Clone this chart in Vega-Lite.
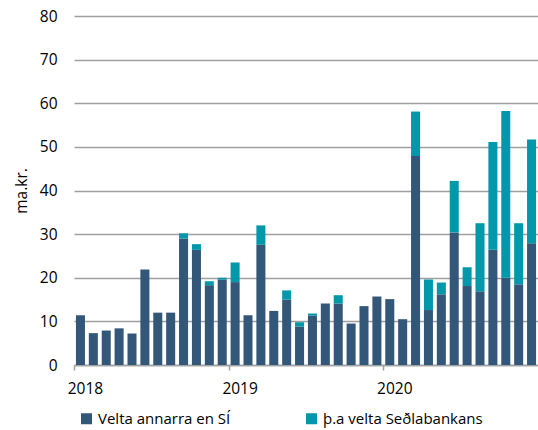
{
  "$schema": "https://vega.github.io/schema/vega-lite/v6.json",
  "autosize": {"type": "none"},
  "width": 464,
  "height": 349,
  "padding": {"left": 74, "top": 16, "right": 0, "bottom": 65},
  "background": "white",
  "config": {
    "view": {"stroke": null},
    "font": "Open Sans",
    "axis": {"labelFont": "Open Sans", "titleFont": "Open Sans", "labelColor": "#000000", "titleColor": "#000000"},
    "legend": {"labelFont": "Open Sans"}
  },
  "data": {
    "values": [
      {"month": "2018-01", "series": "Velta annarra en SÍ", "value": 11.4},
      {"month": "2018-02", "series": "Velta annarra en SÍ", "value": 7.3},
      {"month": "2018-03", "series": "Velta annarra en SÍ", "value": 7.9},
      {"month": "2018-04", "series": "Velta annarra en SÍ", "value": 8.4},
      {"month": "2018-05", "series": "Velta annarra en SÍ", "value": 7.2},
      {"month": "2018-06", "series": "Velta annarra en SÍ", "value": 21.9},
      {"month": "2018-07", "series": "Velta annarra en SÍ", "value": 12.0},
      {"month": "2018-08", "series": "Velta annarra en SÍ", "value": 12.0},
      {"month": "2018-09", "series": "Velta annarra en SÍ", "value": 29.0},
      {"month": "2018-09", "series": "þ.a velta Seðlabankans", "value": 1.2},
      {"month": "2018-10", "series": "Velta annarra en SÍ", "value": 26.4},
      {"month": "2018-10", "series": "þ.a velta Seðlabankans", "value": 1.3},
      {"month": "2018-11", "series": "Velta annarra en SÍ", "value": 18.3},
      {"month": "2018-11", "series": "þ.a velta Seðlabankans", "value": 0.9},
      {"month": "2018-12", "series": "Velta annarra en SÍ", "value": 19.6},
      {"month": "2018-12", "series": "þ.a velta Seðlabankans", "value": 0.4},
      {"month": "2019-01", "series": "Velta annarra en SÍ", "value": 19.0},
      {"month": "2019-01", "series": "þ.a velta Seðlabankans", "value": 4.5},
      {"month": "2019-02", "series": "Velta annarra en SÍ", "value": 11.4},
      {"month": "2019-03", "series": "Velta annarra en SÍ", "value": 27.6},
      {"month": "2019-03", "series": "þ.a velta Seðlabankans", "value": 4.4},
      {"month": "2019-04", "series": "Velta annarra en SÍ", "value": 12.4},
      {"month": "2019-05", "series": "Velta annarra en SÍ", "value": 15.0},
      {"month": "2019-05", "series": "þ.a velta Seðlabankans", "value": 2.1},
      {"month": "2019-06", "series": "Velta annarra en SÍ", "value": 8.8},
      {"month": "2019-06", "series": "þ.a velta Seðlabankans", "value": 1.0},
      {"month": "2019-07", "series": "Velta annarra en SÍ", "value": 11.3},
      {"month": "2019-07", "series": "þ.a velta Seðlabankans", "value": 0.5},
      {"month": "2019-08", "series": "Velta annarra en SÍ", "value": 14.1},
      {"month": "2019-09", "series": "Velta annarra en SÍ", "value": 14.1},
      {"month": "2019-09", "series": "þ.a velta Seðlabankans", "value": 1.9},
      {"month": "2019-10", "series": "Velta annarra en SÍ", "value": 9.5},
      {"month": "2019-11", "series": "Velta annarra en SÍ", "value": 13.5},
      {"month": "2019-12", "series": "Velta annarra en SÍ", "value": 15.7},
      {"month": "2020-01", "series": "Velta annarra en SÍ", "value": 15.1},
      {"month": "2020-02", "series": "Velta annarra en SÍ", "value": 10.5},
      {"month": "2020-03", "series": "Velta annarra en SÍ", "value": 47.9},
      {"month": "2020-03", "series": "þ.a velta Seðlabankans", "value": 10.2},
      {"month": "2020-04", "series": "Velta annarra en SÍ", "value": 12.6},
      {"month": "2020-04", "series": "þ.a velta Seðlabankans", "value": 7.0},
      {"month": "2020-05", "series": "Velta annarra en SÍ", "value": 16.2},
      {"month": "2020-05", "series": "þ.a velta Seðlabankans", "value": 2.7},
      {"month": "2020-06", "series": "Velta annarra en SÍ", "value": 30.4},
      {"month": "2020-06", "series": "þ.a velta Seðlabankans", "value": 11.8},
      {"month": "2020-07", "series": "Velta annarra en SÍ", "value": 18.1},
      {"month": "2020-07", "series": "þ.a velta Seðlabankans", "value": 4.3},
      {"month": "2020-08", "series": "Velta annarra en SÍ", "value": 16.9},
      {"month": "2020-08", "series": "þ.a velta Seðlabankans", "value": 15.6},
      {"month": "2020-09", "series": "Velta annarra en SÍ", "value": 26.4},
      {"month": "2020-09", "series": "þ.a velta Seðlabankans", "value": 24.7},
      {"month": "2020-10", "series": "Velta annarra en SÍ", "value": 20.0},
      {"month": "2020-10", "series": "þ.a velta Seðlabankans", "value": 38.2},
      {"month": "2020-11", "series": "Velta annarra en SÍ", "value": 18.5},
      {"month": "2020-11", "series": "þ.a velta Seðlabankans", "value": 14.0},
      {"month": "2020-12", "series": "Velta annarra en SÍ", "value": 27.9},
      {"month": "2020-12", "series": "þ.a velta Seðlabankans", "value": 23.8}
    ]
  },
  "mark": {"type": "bar"},
  "encoding": {
    "x": {
      "field": "month",
      "type": "ordinal",
      "sort": "ascending",
      "scale": {"paddingInner": 0.3, "paddingOuter": 0.15},
      "axis": {
        "title": null,
        "values": ["2018-01", "2019-01", "2020-01"],
        "labelExpr": "substring(datum.value, 0, 4)",
        "labelAngle": 0,
        "labelFontSize": 15.5,
        "labelPadding": 11,
        "bandPosition": 0,
        "tickOffset": -1.9,
        "labelOffset": 6.4,
        "tickSize": 5,
        "tickColor": "#a0a0a0",
        "tickWidth": 1.5,
        "domainColor": "#a0a0a0",
        "domainWidth": 1.5,
        "grid": false
      }
    },
    "y": {
      "field": "value",
      "type": "quantitative",
      "stack": "zero",
      "scale": {"domain": [0, 80], "nice": false},
      "axis": {
        "title": "ma.kr.",
        "titleFontSize": 15.5,
        "titleFontWeight": "normal",
        "titlePadding": 10,
        "values": [0, 10, 20, 30, 40, 50, 60, 70, 80],
        "labelFontSize": 15.5,
        "labelPadding": 17,
        "domain": false,
        "ticks": false,
        "grid": true,
        "gridColor": "#a0a0a0",
        "gridWidth": 1.5
      }
    },
    "color": {
      "field": "series",
      "type": "nominal",
      "scale": {
        "domain": ["Velta annarra en SÍ", "þ.a velta Seðlabankans"],
        "range": ["#335778", "#0098aa"]
      },
      "legend": {
        "title": null,
        "orient": "none",
        "legendX": 5,
        "legendY": 395,
        "direction": "horizontal",
        "columns": 2,
        "columnPadding": 73,
        "symbolType": "square",
        "symbolSize": 121,
        "symbolStrokeWidth": 0,
        "labelFontSize": 15,
        "labelColor": "#000000",
        "labelOffset": 4,
        "labelLimit": 300
      }
    },
    "order": {"field": "series", "sort": "ascending"}
  }
}
